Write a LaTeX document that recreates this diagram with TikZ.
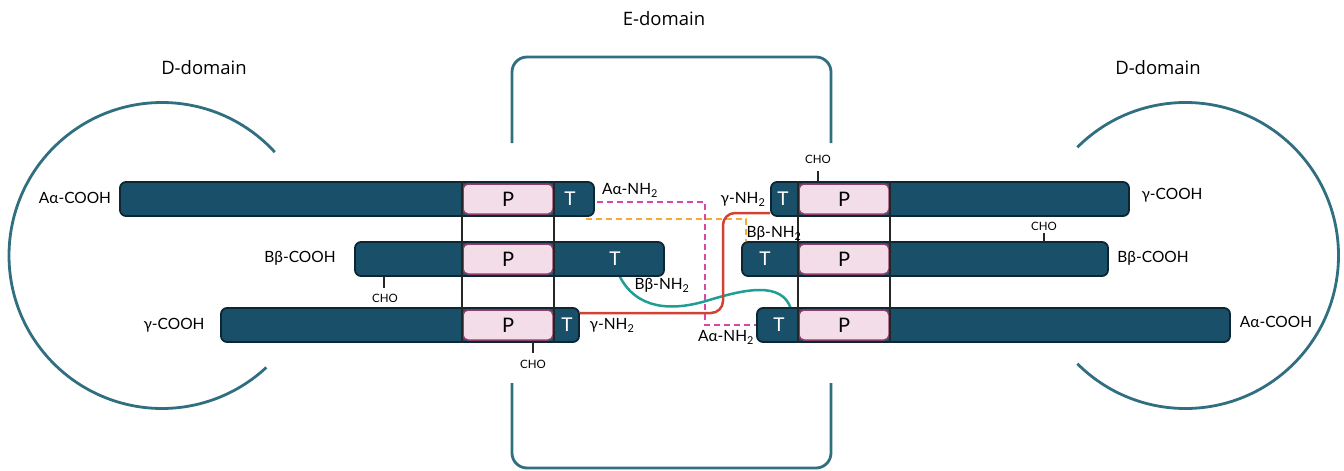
\documentclass[tikz,border=0pt]{standalone}
\usepackage{fontspec}
\setmainfont{Lato}
\newfontfamily\titlefont{Open Sans}
\definecolor{barfill}{RGB}{26,79,106}
\definecolor{barline}{RGB}{12,38,52}
\definecolor{pfill}{RGB}{243,221,233}
\definecolor{pline}{RGB}{142,63,106}
\definecolor{ring}{RGB}{47,111,128}
\definecolor{magc}{RGB}{214,72,162}
\definecolor{orc}{RGB}{246,172,52}
\definecolor{redc}{RGB}{208,66,52}
\definecolor{tealc}{RGB}{30,158,148}
\tikzset{
  bar/.style={draw=barline, fill=barfill, line width=1.8pt, rounded corners=6pt, minimum height=34pt, inner sep=0pt},
  pbox/.style={draw=pline, fill=pfill, line width=1.5pt, rounded corners=5pt, minimum width=90pt, minimum height=30pt, inner sep=0pt, font=\fontsize{20}{20}\selectfont},
  tlab/.style={text=white, font=\fontsize{19}{19}\selectfont, inner sep=0pt},
  lab/.style={font=\fontsize{15.5}{15.5}\selectfont, inner sep=0pt},
  cho/.style={font=\fontsize{11.5}{12}\selectfont, inner sep=0pt},
  ttl/.style={font=\titlefont\fontsize{18.5}{18.5}\selectfont, inner sep=0pt},
  divider/.style={draw=black!85, line width=2.3pt},
  domline/.style={draw=ring, line width=2.8pt},
  tick/.style={draw=black!85, line width=1.6pt},
  dashc/.style={line width=2.4pt, dash pattern=on 6pt off 4pt},
}
\begin{document}
\begin{tikzpicture}[x=1pt,y=-1pt]
\useasboundingbox (0,0) rectangle (1344,471);

% domains
\draw[domline] (162,255.5) ++(-42.5:153) arc[start angle=-42.5, end angle=-313, radius=153];
\draw[domline] (1185.5,255.5) ++(-135:153) arc[start angle=-135, end angle=135, radius=153];
\draw[domline, rounded corners=15pt] (512,143) -- (512,57) -- (831,57) -- (831,143);
\draw[domline, rounded corners=15pt] (512,383) -- (512,468) -- (831,468) -- (831,383);

\node[ttl] (dl) at (204,68) {D-domain};
\node[ttl] (dr) at (1158,68) {D-domain};
\node[ttl] (de) at (664,19) {E-domain};

% connectors behind
\coordinate (tS) at (619,275);
\coordinate (tE) at (791,309);
\draw[tealc, line width=2.5pt] (tS) .. controls (636,310) and (672,311) .. (706,301) .. controls (745,289) and (782,281) .. (tE);

% left bars
\node[bar, minimum width=474pt] (L1) at (357,199) {};
\node[bar, minimum width=309pt] (L2) at (509.5,259) {};
\node[bar, minimum width=358pt] (L3) at (400,325) {};
% right bars
\node[bar, minimum width=358pt] (R1) at (950,199) {};
\node[bar, minimum width=366pt] (R2) at (925,259) {};
\node[bar, minimum width=473pt] (R3) at (993.5,325) {};

% P boxes
\node[pbox] (PL1) at (508,199) {P};
\node[pbox] (PL2) at (508,259) {P};
\node[pbox] (PL3) at (508,325) {P};
\node[pbox] (PR1) at (844,199) {P};
\node[pbox] (PR2) at (844,259) {P};
\node[pbox] (PR3) at (844,325) {P};

% dividers
\draw[divider] (PL1.west |- L1.north) -- (PL3.west |- L3.south);
\draw[divider] (PL1.east |- L1.north) -- (PL3.east |- L3.south);
\draw[divider] (PR1.west |- R1.north) -- (PR3.west |- R3.south);
\draw[divider] (PR1.east |- R1.north) -- (PR3.east |- R3.south);

% T labels
\node[tlab] (TL1) at (570,199) {T};
\node[tlab] (TL2) at (615,259) {T};
\node[tlab] (TL3) at (567,325) {T};
\node[tlab] (TR1) at (783,199) {T};
\node[tlab] (TR2) at (765,259) {T};
\node[tlab] (TR3) at (779,325) {T};

% CHO
\coordinate (c1) at (384,276);
\draw[tick] (c1) -- ++(0,12);
\node[cho] (cho1) at (385,298) {CHO};
\coordinate (c2) at (533,342);
\draw[tick] (c2) -- ++(0,11);
\node[cho] (cho2) at (533,364) {CHO};
\coordinate (c3) at (818,182);
\draw[tick] (c3) -- ++(0,-11);
\node[cho] (cho3) at (818,159) {CHO};
\coordinate (c4) at (1044,242);
\draw[tick] (c4) -- ++(0,-9);
\node[cho] (cho4) at (1044,226) {CHO};

% connectors
\coordinate (mS) at (597,202);
\draw[magc, dashc] (mS) -- (705,202) |- (R3.west);
\coordinate (oS) at (586,219);
\coordinate (oE) at (746,241);
\draw[orc, dashc] (oS) -| (oE);
\draw[redc, line width=2.5pt, rounded corners=12pt] ([yshift=12pt]L3.east) -- (723,313) |- ([yshift=-14pt]R1.west);

% labels
\node[lab] (a1) at (75,198) {Aα-COOH};
\node[lab] (a2) at (300,258) {Bβ-COOH};
\node[lab] (a3) at (174,325) {γ-COOH};
\node[lab] (n1) at (630,190) {Aα-NH\textsubscript{2}};
\node[lab] (n2) at (662,285) {Bβ-NH\textsubscript{2}};
\node[lab] (n3) at (612,325) {γ-NH\textsubscript{2}};
\node[lab] (m1) at (743,199) {γ-NH\textsubscript{2}};
\node[lab] (m2) at (774,233) {Bβ-NH\textsubscript{2}};
\node[lab] (m3) at (726,337) {Aα-NH\textsubscript{2}};
\node[lab] (b1) at (1172,195) {γ-COOH};
\node[lab] (b2) at (1153,258) {Bβ-COOH};
\node[lab] (b3) at (1276,322) {Aα-COOH};
\end{tikzpicture}
\end{document}
